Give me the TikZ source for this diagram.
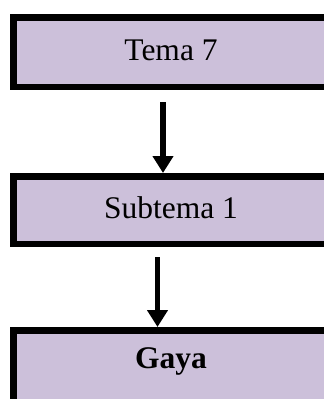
\documentclass[tikz,border=0pt]{standalone}
\usepackage{fontspec}
\setmainfont{Liberation Serif}
\usetikzlibrary{arrows.meta}
\definecolor{lav}{HTML}{CCC0DA}
\begin{document}
\begin{tikzpicture}[x=1pt,y=1pt,
  box/.style={draw=black, fill=lav, line width=6.5pt, rectangle, inner sep=0pt,
    minimum width=315.5pt, font=\fontsize{31.5}{36}\selectfont,
    text height=22pt, text depth=6pt},
  arr/.style={line width=5.5pt, -{Triangle[width=20pt,length=17pt]}}]
\useasboundingbox (0,0) rectangle (324,-399);
\clip (0,0) rectangle (324,-399);
\node[box, minimum height=69.5pt] (t7) at (171,-52) {Tema 7};
\node[box, minimum height=67.5pt] (st1) at (171,-210) {Subtema 1};
\node[box, minimum height=76.5pt, text height=20pt, text depth=21pt] (gaya) at (171,-368.5) {\textbf{Gaya}};
\draw[arr] ([xshift=-8pt,yshift=-12pt]t7.south) -- ([xshift=-8pt]st1.north);
\draw[arr] ([xshift=-13.5pt,yshift=-10pt]st1.south) -- ([xshift=-13.5pt]gaya.north);
\end{tikzpicture}
\end{document}
